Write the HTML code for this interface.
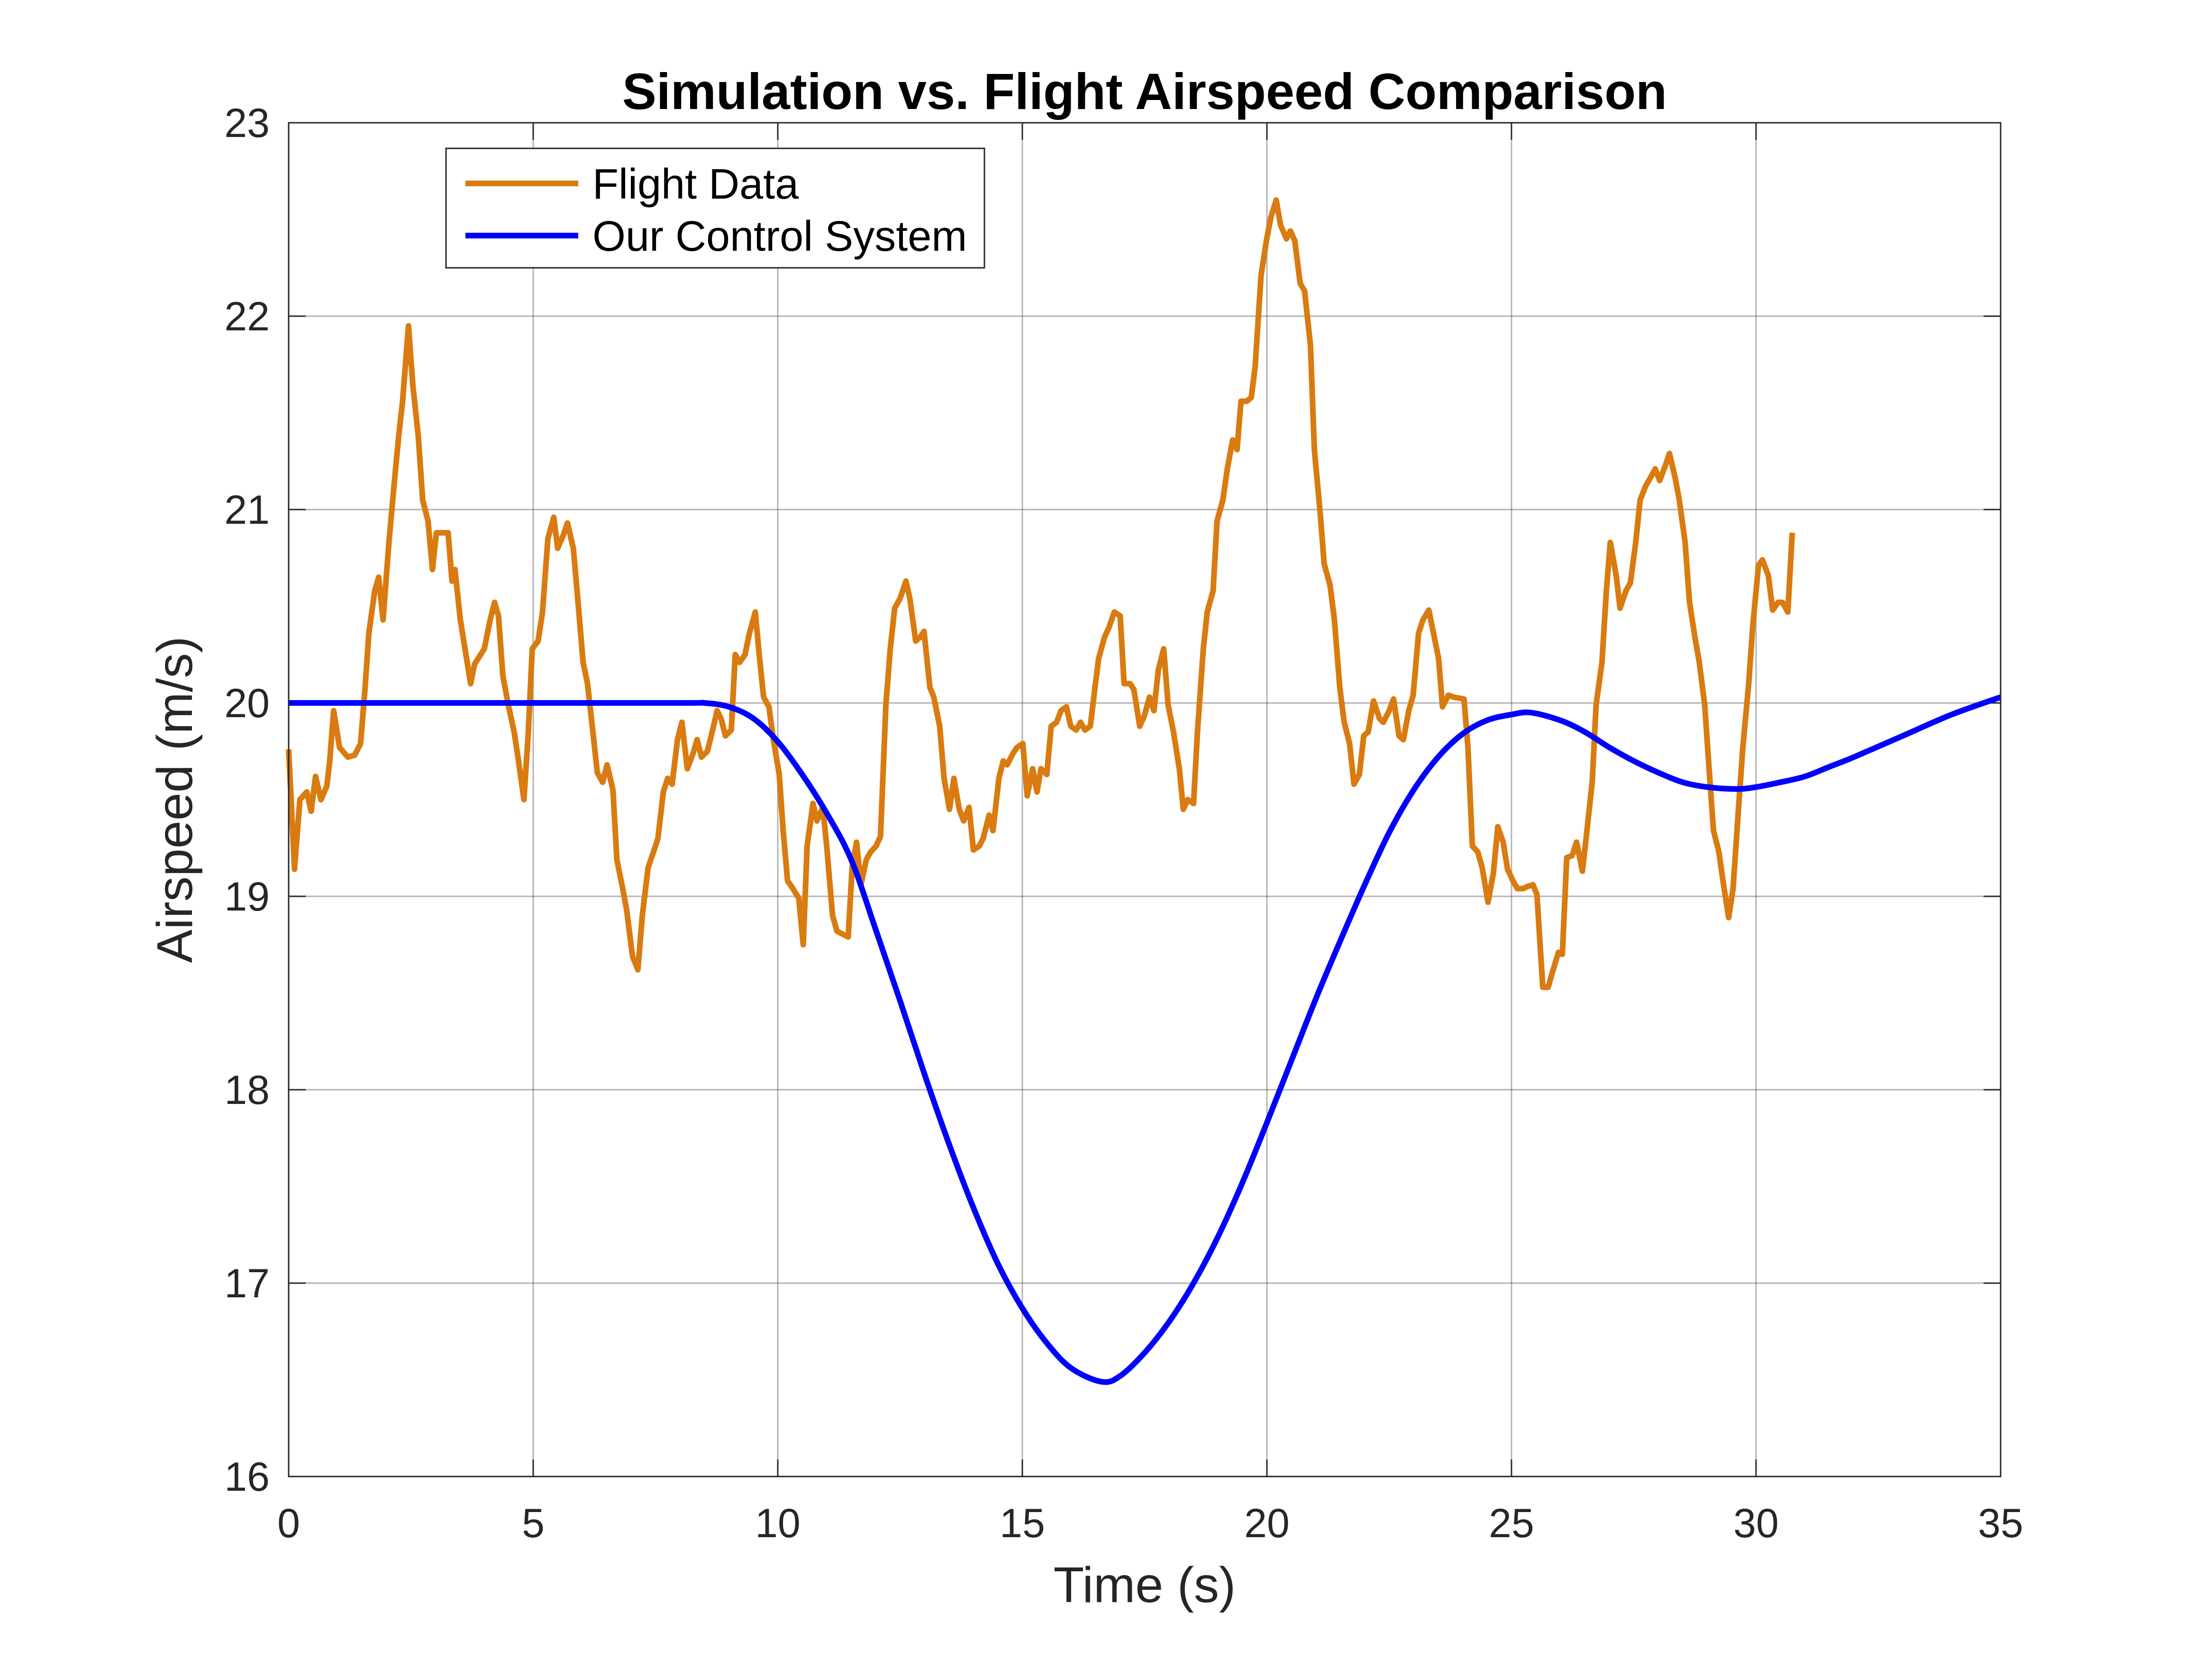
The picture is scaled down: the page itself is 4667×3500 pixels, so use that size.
<!DOCTYPE html>
<html><head><meta charset="utf-8"><style>
html,body{margin:0;padding:0;background:#fff}
svg{display:block}
text{font-family:"Liberation Sans",sans-serif;fill:#262626}
</style></head><body>
<svg id="chart" width="4667" height="3500" viewBox="0 0 4667 3500" xmlns="http://www.w3.org/2000/svg">
<rect width="4667" height="3500" fill="#fff"/>
<g id="grid"></g>
<g id="series"></g>
<rect x="609" y="259" width="3612" height="2856" fill="none" stroke="#262626" stroke-width="3"/>
<g id="ticks"></g>
<text x="2415" y="230" text-anchor="middle" font-size="108" font-weight="bold" style="fill:#000">Simulation vs. Flight Airspeed Comparison</text>
<text x="2415" y="3380" text-anchor="middle" font-size="106">Time (s)</text>
<text transform="translate(405,1687) rotate(-90)" text-anchor="middle" font-size="106">Airspeed (m/s)</text>
<g>
<rect x="941" y="313" width="1136" height="252" fill="#fff" stroke="#262626" stroke-width="3"/>
<line x1="982" y1="387" x2="1220" y2="387" stroke="#d97b10" stroke-width="12"/>
<text x="1250" y="419" font-size="90" style="fill:#000">Flight Data</text>
<line x1="982" y1="497" x2="1220" y2="497" stroke="#0000ff" stroke-width="12"/>
<text x="1250" y="529" font-size="90" style="fill:#000">Our Control System</text>
</g>
</svg>
<script>
const xTicks=[0,5,10,15,20,25,30,35];
const yTicks=[16,17,18,19,20,21,22,23];
const flightT=[0,0.12,0.23,0.37,0.46,0.55,0.66,0.78,0.84,0.92,1.04,1.21,1.35,1.47,1.56,1.64,1.76,1.84,1.93,2.05,2.16,2.25,2.33,2.45,2.54,2.65,2.74,2.85,2.94,3.02,3.26,3.34,3.40,3.51,3.72,3.80,4.00,4.12,4.21,4.29,4.38,4.49,4.61,4.70,4.81,4.90,4.98,5.10,5.19,5.30,5.42,5.50,5.62,5.70,5.82,5.91,6.02,6.11,6.22,6.31,6.42,6.51,6.63,6.71,6.83,6.91,7.03,7.14,7.23,7.35,7.46,7.55,7.66,7.75,7.84,7.95,8.04,8.15,8.27,8.35,8.44,8.56,8.64,8.76,8.84,8.93,9.05,9.13,9.22,9.33,9.42,9.54,9.62,9.71,9.82,9.91,10.03,10.11,10.20,10.31,10.43,10.52,10.60,10.72,10.80,10.92,11.00,11.12,11.21,11.44,11.52,11.61,11.70,11.81,11.90,12.01,12.10,12.21,12.30,12.39,12.50,12.62,12.70,12.82,12.91,12.99,13.11,13.19,13.31,13.40,13.51,13.60,13.71,13.80,13.91,14.00,14.12,14.20,14.32,14.40,14.52,14.61,14.69,14.81,14.89,15.01,15.10,15.21,15.30,15.38,15.50,15.59,15.70,15.79,15.90,15.99,16.10,16.19,16.28,16.39,16.48,16.56,16.68,16.77,16.88,17.00,17.08,17.20,17.28,17.40,17.49,17.60,17.69,17.78,17.89,17.98,18.09,18.21,18.29,18.38,18.50,18.58,18.70,18.78,18.90,18.98,19.10,19.19,19.30,19.39,19.47,19.59,19.68,19.76,19.88,19.99,20.08,20.19,20.28,20.40,20.48,20.57,20.68,20.77,20.89,20.97,21.09,21.17,21.29,21.38,21.49,21.58,21.69,21.78,21.89,21.98,22.07,22.18,22.30,22.38,22.50,22.59,22.70,22.79,22.90,22.99,23.10,23.19,23.31,23.39,23.51,23.59,23.71,23.82,24.03,24.11,24.20,24.31,24.40,24.52,24.63,24.72,24.83,24.92,25.03,25.12,25.24,25.32,25.44,25.52,25.64,25.75,25.84,25.96,26.04,26.13,26.24,26.33,26.45,26.53,26.65,26.73,26.85,26.94,27.02,27.14,27.22,27.34,27.43,27.54,27.63,27.74,27.83,27.94,28.03,28.15,28.23,28.35,28.43,28.55,28.64,28.75,28.84,28.95,29.04,29.13,29.24,29.33,29.44,29.53,29.64,29.73,29.85,29.93,30.05,30.13,30.25,30.34,30.45,30.54,30.65,30.74];
const flightV=[19.76,19.14,19.50,19.54,19.44,19.62,19.50,19.57,19.70,19.96,19.77,19.72,19.73,19.79,20.07,20.36,20.58,20.65,20.43,20.83,21.14,21.38,21.56,21.95,21.64,21.38,21.05,20.94,20.69,20.88,20.88,20.63,20.69,20.43,20.10,20.20,20.28,20.43,20.52,20.45,20.14,19.99,19.85,19.70,19.50,19.85,20.28,20.32,20.47,20.85,20.96,20.80,20.87,20.93,20.80,20.54,20.21,20.10,19.85,19.64,19.59,19.68,19.55,19.19,19.04,18.93,18.69,18.62,18.90,19.15,19.23,19.30,19.54,19.61,19.58,19.81,19.90,19.66,19.74,19.81,19.72,19.75,19.83,19.96,19.92,19.83,19.86,20.25,20.21,20.25,20.36,20.47,20.25,20.03,19.98,19.81,19.63,19.34,19.08,19.04,18.99,18.75,19.26,19.48,19.39,19.46,19.26,18.90,18.82,18.79,19.15,19.28,19.06,19.19,19.23,19.26,19.31,19.99,20.28,20.49,20.54,20.63,20.54,20.32,20.34,20.37,20.08,20.03,19.88,19.61,19.45,19.61,19.45,19.39,19.46,19.24,19.26,19.30,19.42,19.34,19.61,19.70,19.68,19.74,19.77,19.79,19.52,19.66,19.54,19.66,19.63,19.88,19.90,19.96,19.98,19.88,19.86,19.90,19.86,19.88,20.07,20.23,20.34,20.39,20.47,20.45,20.10,20.10,20.07,19.88,19.93,20.03,19.96,20.17,20.28,19.99,19.85,19.66,19.45,19.50,19.48,19.85,20.28,20.47,20.58,20.94,21.05,21.21,21.36,21.31,21.56,21.56,21.58,21.74,22.21,22.39,22.51,22.60,22.47,22.40,22.44,22.39,22.17,22.13,21.85,21.31,20.98,20.72,20.61,20.43,20.08,19.90,19.79,19.58,19.63,19.83,19.85,20.01,19.92,19.90,19.96,20.02,19.83,19.81,19.96,20.04,20.36,20.43,20.48,20.38,20.23,19.98,20.04,20.03,20.02,19.77,19.26,19.23,19.15,18.97,19.12,19.36,19.28,19.14,19.08,19.04,19.04,19.05,19.06,19.01,18.53,18.53,18.61,18.71,18.70,19.20,19.21,19.28,19.13,19.31,19.59,19.99,20.21,20.58,20.83,20.66,20.49,20.58,20.62,20.83,21.05,21.12,21.16,21.21,21.15,21.23,21.29,21.16,21.05,20.83,20.52,20.34,20.21,19.99,19.66,19.34,19.23,19.07,18.89,19.04,19.45,19.77,20.10,20.39,20.71,20.74,20.66,20.48,20.52,20.52,20.47,20.88];
const simT=[0,4,8,8.5,9,9.5,10,10.5,11,11.5,12,12.5,13,13.5,14,14.5,15,15.5,16,16.62,17,17.5,18,18.5,19,19.5,20,20.5,21,21.5,22,22.5,23,23.5,24,24.5,25,25.4,26,26.5,27,27.5,28,28.5,29,29.6,30,30.5,31,31.5,32,33,34,35];
const simV=[20.0,20.0,20.0,20.0,19.98,19.92,19.80,19.63,19.43,19.19,18.83,18.46,18.08,17.72,17.39,17.10,16.87,16.69,16.56,16.49,16.52,16.64,16.80,17.0,17.24,17.52,17.83,18.15,18.47,18.77,19.06,19.33,19.55,19.72,19.84,19.91,19.94,19.95,19.91,19.85,19.77,19.70,19.64,19.59,19.565,19.555,19.565,19.59,19.62,19.67,19.72,19.83,19.94,20.03];
const L=609,R=4221,T=259,B=3115;
const xs=t=>L+(t-0)/(35-0)*(R-L);
const ys=v=>B-(v-16)/(23-16)*(B-T);
const NS='http://www.w3.org/2000/svg';
const grid=document.getElementById('grid'),ticks=document.getElementById('ticks'),series=document.getElementById('series');
function mk(tag,attrs,parent){const e=document.createElementNS(NS,tag);for(const k in attrs)e.setAttribute(k,attrs[k]);parent.appendChild(e);return e;}
xTicks.forEach(t=>{
  const g=mk('line',{x1:xs(t),x2:xs(t),y1:T,y2:B,stroke:'#262626','stroke-opacity':0.35,'stroke-width':3},grid);
  
  
  const m=mk('line',{x1:xs(t),x2:xs(t),y1:B,y2:B-36,stroke:'#262626','stroke-width':3},grid);
  
  
  const m2=mk('line',{x1:xs(t),x2:xs(t),y1:T,y2:T+36,stroke:'#262626','stroke-width':3},grid);
  
  
  const tx=mk('text',{x:xs(t),y:B+128,'text-anchor':'middle','font-size':86},ticks);
  tx.textContent=t;
  
  
});
yTicks.forEach(v=>{
  const g=mk('line',{x1:L,x2:R,y1:ys(v),y2:ys(v),stroke:'#262626','stroke-opacity':0.35,'stroke-width':3},grid);
  
  
  const m=mk('line',{x1:L,x2:L+36,y1:ys(v),y2:ys(v),stroke:'#262626','stroke-width':3},grid);
  
  
  const m2=mk('line',{x1:R,x2:R-36,y1:ys(v),y2:ys(v),stroke:'#262626','stroke-width':3},grid);
  
  
  const tx=mk('text',{x:L-40,y:ys(v)+30,'text-anchor':'end','font-size':86},ticks);
  tx.textContent=v;
  
  
});
const fp=mk('polyline',{points:flightT.map((t,i)=>xs(t)+','+ys(flightV[i])).join(' '),fill:'none',stroke:'#d97b10','stroke-width':12,'stroke-linejoin':'round'},series);


const P=simT.map((t,i)=>[xs(t),ys(simV[i])]);
let d='M'+P[0][0]+','+P[0][1];
for(let i=0;i<P.length-1;i++){
  const p0=P[Math.max(0,i-1)],p1=P[i],p2=P[i+1],p3=P[Math.min(P.length-1,i+2)];
  const c1=[p1[0]+(p2[0]-p0[0])/6,p1[1]+(p2[1]-p0[1])/6];
  const c2=[p2[0]-(p3[0]-p1[0])/6,p2[1]-(p3[1]-p1[1])/6];
  d+=` C${c1[0]},${c1[1]} ${c2[0]},${c2[1]} ${p2[0]},${p2[1]}`;
}
const sp=mk('path',{d:d,fill:'none',stroke:'#0000ff','stroke-width':12,'stroke-linejoin':'round'},series);


</script>
</body></html>
